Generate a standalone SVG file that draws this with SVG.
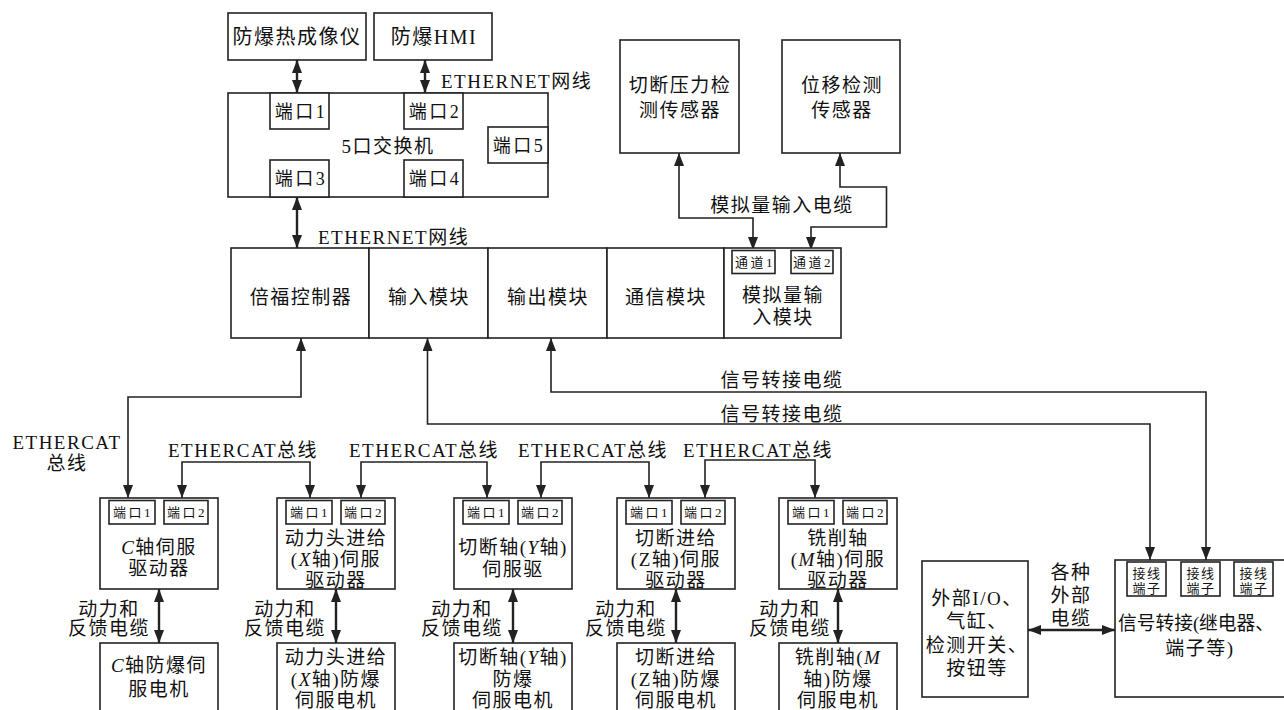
<svg xmlns="http://www.w3.org/2000/svg" width="1284" height="710" viewBox="0 0 1284 710">
<defs>
<style>
.bx{fill:#fff;stroke:#222;stroke-width:1.6}
.t{font-family:"Liberation Serif","Noto Sans CJK SC",serif;font-size:19px;letter-spacing:1.5px;fill:#111;text-anchor:middle}
.l{text-anchor:start}
.b{font-size:20px}
.p{font-size:18px;letter-spacing:2.5px}
.s{font-size:13px;letter-spacing:2.5px}
.k{font-size:13px;letter-spacing:1.5px}
.c{fill:none;stroke:#222;stroke-width:1.6;marker-start:url(#ah);marker-end:url(#ah)}
.d{stroke-width:2.4}
.i{font-style:italic}
</style>
<marker id="ah" markerUnits="userSpaceOnUse" markerWidth="13" markerHeight="10" refX="13" refY="5" orient="auto-start-reverse" viewBox="0 0 13 10">
<path d="M0,0 L13,5 L0,10 z" fill="#222"/>
</marker>
</defs>
<rect width="1284" height="710" fill="#fff"/>

<g id="connectors">
<path class="c d" d="M297,60 V93"/>
<path class="c d" d="M425,60 V93"/>
<path class="c d" d="M297,197 V248"/>
<path class="c" d="M679,153 V218 H753 V250"/>
<path class="c" d="M840,153 V187 H886.5 V227 H811 V250"/>
<path class="c" d="M301,338 V397 H128 V498"/>
<path class="c" d="M427.5,338 V424 H1150 V560"/>
<path class="c" d="M551,338 V392 H1206 V560"/>
<path class="c" d="M182,498 V462 H310 V498"/>
<path class="c" d="M361,498 V462 H487 V498"/>
<path class="c" d="M541,498 V462 H649 V498"/>
<path class="c" d="M705,498 V460 H815 V498"/>
<path class="c d" d="M159,589 V643"/>
<path class="c d" d="M336,589 V643"/>
<path class="c d" d="M513,589 V643"/>
<path class="c d" d="M676,589 V643"/>
<path class="c d" d="M838,589 V643"/>
<path class="c d" d="M1028,630 H1115"/>
<text class="t l" x="441" y="88">ETHERNET网线</text>
<text class="t l" x="318" y="244">ETHERNET网线</text>
<text class="t" x="782" y="212">模拟量输入电缆</text>
<text class="t" x="782" y="387">信号转接电缆</text>
<text class="t" x="782" y="421">信号转接电缆</text>
<text class="t" x="67" y="449">ETHERCAT</text>
<text class="t" x="67" y="470">总线</text>
<text class="t l" x="168" y="457">ETHERCAT总线</text>
<text class="t l" x="349" y="457">ETHERCAT总线</text>
<text class="t l" x="518" y="457">ETHERCAT总线</text>
<text class="t l" x="683" y="457">ETHERCAT总线</text>
<text class="t" x="109" y="616">动力和</text>
<text class="t" x="109" y="635">反馈电缆</text>
<text class="t" x="285" y="616">动力和</text>
<text class="t" x="285" y="635">反馈电缆</text>
<text class="t" x="462" y="616">动力和</text>
<text class="t" x="462" y="635">反馈电缆</text>
<text class="t" x="626" y="616">动力和</text>
<text class="t" x="626" y="635">反馈电缆</text>
<text class="t" x="790" y="616">动力和</text>
<text class="t" x="790" y="635">反馈电缆</text>
<text class="t" x="1071" y="579">各种</text>
<text class="t" x="1071" y="602">外部</text>
<text class="t" x="1071" y="625">电缆</text>
</g>

<g id="thermal-camera">
<rect class="bx" x="228" y="13" width="138" height="47"/>
<text class="t b" x="297" y="44">防爆热成像仪</text>
</g>
<g id="hmi">
<rect class="bx" x="374" y="13" width="118" height="47"/>
<text class="t b" x="434" y="44">防爆HMI</text>
</g>

<g id="switch">
<rect class="bx" x="228" y="93" width="320" height="104"/>
<text class="t" x="388" y="153">5口交换机</text>
<rect class="bx" x="270" y="93" width="59" height="36"/>
<text class="t p" x="301" y="118">端口1</text>
<rect class="bx" x="404" y="93" width="59" height="36"/>
<text class="t p" x="435" y="118">端口2</text>
<rect class="bx" x="488" y="127" width="60" height="36"/>
<text class="t p" x="519" y="152">端口5</text>
<rect class="bx" x="270" y="160" width="59" height="37"/>
<text class="t p" x="301" y="185">端口3</text>
<rect class="bx" x="404" y="160" width="59" height="37"/>
<text class="t p" x="435" y="185">端口4</text>
</g>

<g id="pressure-sensor">
<rect class="bx" x="620" y="40" width="119" height="113"/>
<text class="t" x="680" y="92">切断压力检</text>
<text class="t" x="680" y="117">测传感器</text>
</g>
<g id="displacement-sensor">
<rect class="bx" x="782" y="40" width="118" height="113"/>
<text class="t" x="842" y="92">位移检测</text>
<text class="t" x="842" y="117">传感器</text>
</g>

<g id="controller">
<rect class="bx" x="231" y="248" width="138" height="90"/>
<text class="t" x="301" y="304">倍福控制器</text>
</g>
<g id="input-module">
<rect class="bx" x="369" y="248" width="119" height="90"/>
<text class="t" x="429" y="304">输入模块</text>
</g>
<g id="output-module">
<rect class="bx" x="488" y="248" width="119" height="90"/>
<text class="t" x="548" y="304">输出模块</text>
</g>
<g id="comm-module">
<rect class="bx" x="607" y="248" width="117" height="90"/>
<text class="t" x="666" y="304">通信模块</text>
</g>
<g id="analog-module">
<rect class="bx" x="724" y="248" width="117" height="90"/>
<rect class="bx" x="732" y="250.5" width="43" height="23"/>
<text class="t s" x="755" y="267">通道1</text>
<rect class="bx" x="791" y="250.5" width="42" height="23"/>
<text class="t s" x="813" y="267">通道2</text>
<text class="t" x="783" y="302">模拟量输</text>
<text class="t" x="783" y="324">入模块</text>
</g>

<g id="driver-c">
<rect class="bx" x="100" y="498" width="118" height="91"/>
<rect class="bx" x="109" y="500.5" width="46" height="23.5"/>
<text class="t s" x="133" y="517">端口1</text>
<rect class="bx" x="164" y="500.5" width="44" height="23.5"/>
<text class="t s" x="187" y="517">端口2</text>
<text class="t" x="159" y="554"><tspan class="i">C</tspan>轴伺服</text>
<text class="t" x="159" y="575">驱动器</text>
</g>
<g id="driver-x">
<rect class="bx" x="277" y="498" width="118" height="91"/>
<rect class="bx" x="286" y="500.5" width="46" height="23.5"/>
<text class="t s" x="310" y="517">端口1</text>
<rect class="bx" x="341" y="500.5" width="44" height="23.5"/>
<text class="t s" x="364" y="517">端口2</text>
<text class="t" x="336" y="545">动力头进给</text>
<text class="t" x="336" y="566">(<tspan class="i">X</tspan>轴)伺服</text>
<text class="t" x="336" y="587">驱动器</text>
</g>
<g id="driver-y">
<rect class="bx" x="454" y="498" width="118" height="91"/>
<rect class="bx" x="463" y="500.5" width="46" height="23.5"/>
<text class="t s" x="487" y="517">端口1</text>
<rect class="bx" x="518" y="500.5" width="44" height="23.5"/>
<text class="t s" x="541" y="517">端口2</text>
<text class="t" x="513" y="554">切断轴(<tspan class="i">Y</tspan>轴)</text>
<text class="t" x="513" y="576">伺服驱</text>
</g>
<g id="driver-z">
<rect class="bx" x="617" y="498" width="118" height="91"/>
<rect class="bx" x="626" y="500.5" width="46" height="23.5"/>
<text class="t s" x="650" y="517">端口1</text>
<rect class="bx" x="681" y="500.5" width="44" height="23.5"/>
<text class="t s" x="704" y="517">端口2</text>
<text class="t" x="676" y="545">切断进给</text>
<text class="t" x="676" y="566">(Z轴)伺服</text>
<text class="t" x="676" y="587">驱动器</text>
</g>
<g id="driver-m">
<rect class="bx" x="779" y="498" width="118" height="91"/>
<rect class="bx" x="788" y="500.5" width="46" height="23.5"/>
<text class="t s" x="812" y="517">端口1</text>
<rect class="bx" x="843" y="500.5" width="44" height="23.5"/>
<text class="t s" x="866" y="517">端口2</text>
<text class="t" x="838" y="545">铣削轴</text>
<text class="t" x="838" y="566">(<tspan class="i">M</tspan>轴)伺服</text>
<text class="t" x="838" y="587">驱动器</text>
</g>

<g id="motor-c">
<rect class="bx" x="100" y="643" width="118" height="80"/>
<text class="t" x="159" y="672"><tspan class="i">C</tspan>轴防爆伺</text>
<text class="t" x="159" y="696">服电机</text>
</g>
<g id="motor-x">
<rect class="bx" x="277" y="643" width="118" height="80"/>
<text class="t" x="336" y="664">动力头进给</text>
<text class="t" x="336" y="686">(<tspan class="i">X</tspan>轴)防爆</text>
<text class="t" x="336" y="707">伺服电机</text>
</g>
<g id="motor-y">
<rect class="bx" x="454" y="643" width="118" height="80"/>
<text class="t" x="513" y="664">切断轴(<tspan class="i">Y</tspan>轴)</text>
<text class="t" x="513" y="686">防爆</text>
<text class="t" x="513" y="707">伺服电机</text>
</g>
<g id="motor-z">
<rect class="bx" x="617" y="643" width="118" height="80"/>
<text class="t" x="676" y="664">切断进给</text>
<text class="t" x="676" y="686">(Z轴)防爆</text>
<text class="t" x="676" y="707">伺服电机</text>
</g>
<g id="motor-m">
<rect class="bx" x="779" y="643" width="118" height="80"/>
<text class="t" x="838" y="664">铣削轴(<tspan class="i">M</tspan></text>
<text class="t" x="838" y="686">轴)防爆</text>
<text class="t" x="838" y="707">伺服电机</text>
</g>

<g id="external-io">
<rect class="bx" x="922" y="561" width="106" height="136"/>
<text class="t" x="977" y="605">外部I/O、</text>
<text class="t" x="977" y="628">气缸、</text>
<text class="t" x="977" y="652">检测开关、</text>
<text class="t" x="977" y="675">按钮等</text>
</g>

<g id="signal-transfer">
<rect class="bx" x="1115" y="560" width="185" height="137"/>
<rect class="bx" x="1127" y="562" width="39" height="34"/>
<text class="t k" x="1147" y="578">接线</text>
<text class="t k" x="1147" y="593">端子</text>
<rect class="bx" x="1181" y="562" width="39" height="34"/>
<text class="t k" x="1201" y="578">接线</text>
<text class="t k" x="1201" y="593">端子</text>
<rect class="bx" x="1234" y="562" width="39" height="34"/>
<text class="t k" x="1254" y="578">接线</text>
<text class="t k" x="1254" y="593">端子</text>
<text class="t l" x="1118" y="630" style="letter-spacing:0" textLength="156" lengthAdjust="spacingAndGlyphs">信号转接(继电器、</text>
<text class="t" x="1200" y="655">端子等)</text>
</g>
</svg>
